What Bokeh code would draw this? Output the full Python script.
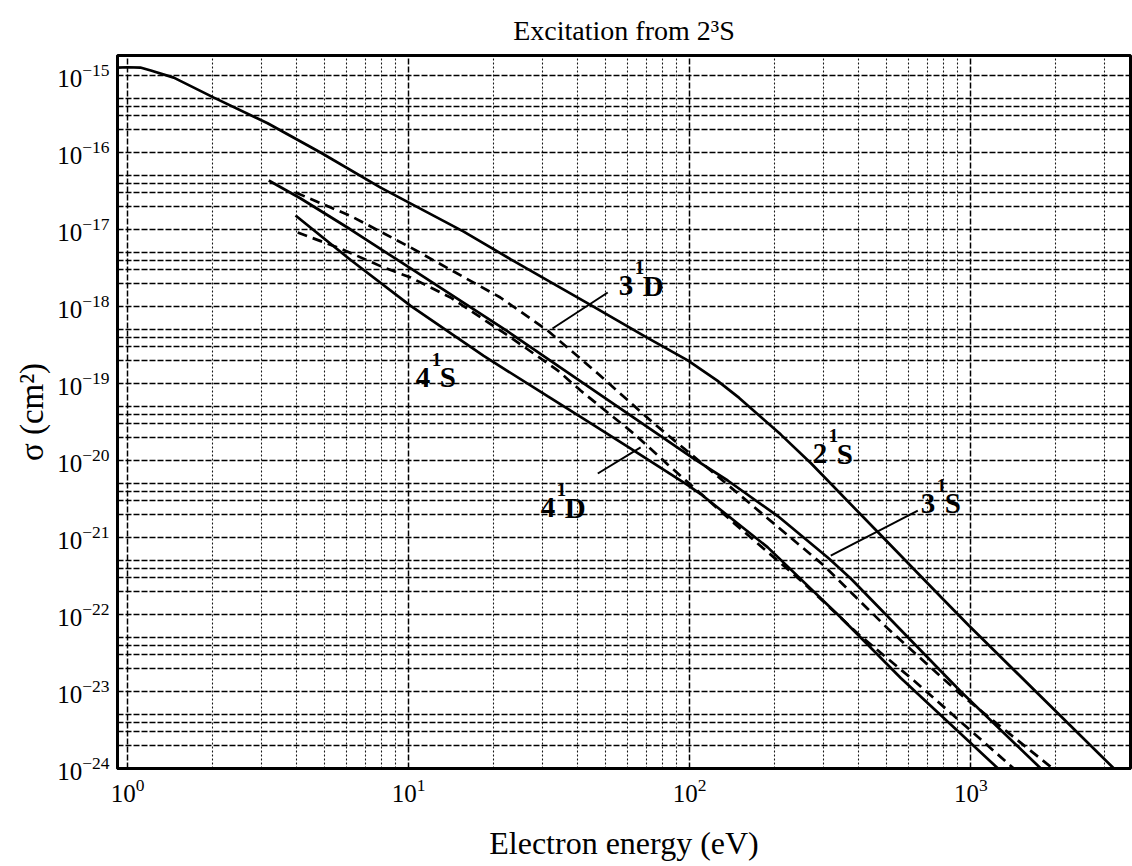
from bokeh.plotting import figure
from bokeh.models import FixedTicker, Range1d, Title
from bokeh.embed import file_html
from bokeh.resources import INLINE
from bokeh.core.properties import value

# Electron energy (eV) and excitation cross section (cm^2) for each final state
e_2s = [0.92, 1.0, 1.11, 1.21, 1.46, 2.02, 3.15, 4.86, 7.95, 15.7, 23.1, 43.4, 70.0, 98.4, 125, 150, 211, 270,
        480, 780, 980, 3230]
s_2s = [1.27e-15, 1.28e-15, 1.27e-15, 1.16e-15, 9.4e-16, 5.2e-16, 2.4e-16, 1.0e-16, 3.5e-17, 9.4e-18, 4.1e-18,
        1.1e-18, 4.0e-19, 2.0e-19, 1.1e-19, 6.5e-20, 2.17e-20, 9.2e-21, 1.06e-21, 1.71e-22, 7.3e-23, 1.0e-24]

e_3s = [3.18, 4.13, 6.22, 10.17, 23.1, 33.9, 63.2, 103.3, 136.5, 205.7, 309.8, 374, 921, 1775]
s_3s = [4.33e-17, 2.53e-17, 1.0e-17, 3.12e-18, 4.46e-19, 1.71e-19, 3.61e-20, 1.06e-20, 5.5e-21, 1.9e-21,
        5.5e-22, 2.94e-22, 1.0e-23, 1.0e-24]

e_3d = [3.96, 6.22, 10.17, 21.2, 31.2, 47.1, 74.5, 118.8, 189.5, 299.9, 506.5, 921, 1957]
s_3d = [3.03e-17, 1.5e-17, 5.83e-18, 1.31e-18, 4.88e-19, 1.35e-19, 3.03e-20, 7.4e-21, 1.77e-21, 4.33e-22,
        6.58e-23, 9.14e-24, 1.0e-24]

e_4s = [3.96, 6.22, 10.17, 18.5, 31.2, 40.9, 61.7, 98.4, 109.4, 189.5, 344.7, 563.5, 1250]
s_4s = [1.52e-17, 4.02e-18, 1.02e-18, 2.28e-19, 6.84e-20, 3.68e-20, 1.43e-20, 4.79e-21, 3.67e-21, 7.45e-22,
        9.16e-23, 1.5e-23, 1.0e-24]

e_4d = [4.03, 5.73, 8.15, 10.17, 14.1, 23.1, 33.9, 40.9, 63.2, 83.5, 109.4, 143.4, 248.3, 396, 627, 1422]
s_4d = [9.14e-18, 5.66e-18, 3.21e-18, 2.38e-18, 1.31e-18, 3.96e-19, 1.48e-19, 8.1e-20, 2.24e-20, 8.9e-21,
        3.72e-21, 1.55e-21, 2.77e-22, 5.66e-23, 1.39e-23, 1.0e-24]

# Curve labels (principal quantum number, multiplicity, orbital letter) and leader lines
label_n = ["3", "4", "4", "2", "3"]
label_mult = ["1", "1", "1", "1", "1"]
label_l = ["D", "S", "D", "S", "S"]
label_e = [55.9, 10.6, 29.5, 274, 664]
label_s = [1.87e-18, 1.2e-19, 2.45e-21, 1.23e-20, 2.77e-21]

leader_e0 = [51.1, 648, 47.1]
leader_s0 = [1.52e-18, 2.24e-21, 6.78e-21]
leader_e1 = [32.5, 317.5, 66.9]
leader_s1 = [5.18e-19, 5.83e-22, 1.48e-20]

# Tick positions
x_decades = [1, 10, 100, 1000]
y_decades = [10.0 ** k for k in range(-24, -14)]
x_minor = [m * d for d in x_decades for m in range(2, 10)]
y_minor = [m * d for d in y_decades for m in (2, 3, 4, 5)]

SERIF = "Liberation Serif"

title = Title(text="Excitation from 2\u00b3S", align="center", text_font=SERIF, text_font_style="normal",
              text_font_size="28px", text_color="black", standoff=20)

p = figure(width=1132, height=866, x_axis_type="log", y_axis_type="log",
           x_range=Range1d(0.921, 3700), y_range=Range1d(1e-24, 1.82e-15),
           output_backend="svg", toolbar_location=None, title=title,
           min_border_left=117, min_border_right=2, min_border_top=55, min_border_bottom=98,
           background_fill_color="white", border_fill_color="white")

p.xaxis.ticker = FixedTicker(ticks=x_decades, minor_ticks=x_minor)
p.yaxis.ticker = FixedTicker(ticks=y_decades, minor_ticks=y_minor)

for ax in (p.xaxis, p.yaxis):
    ax.axis_line_width = 3
    ax.axis_line_color = "black"
    ax.major_tick_out = 0
    ax.major_tick_in = 0
    ax.minor_tick_out = 0
    ax.minor_tick_in = 0
    ax.major_label_text_font = SERIF
    ax.major_label_text_font_size = "25px"
    ax.major_label_text_color = "black"
    ax.axis_label_text_font = SERIF
    ax.axis_label_text_font_style = "normal"
    ax.axis_label_text_color = "black"

p.xaxis.axis_label = "Electron energy (eV)"
p.xaxis.axis_label_text_font_size = "32px"
p.xaxis.major_label_standoff = 10
p.xaxis.axis_label_standoff = 20

p.yaxis.axis_label = "\u03c3 (cm\u00b2)"
p.yaxis.axis_label_text_font_size = "33px"
p.yaxis.major_label_standoff = 8
p.yaxis.axis_label_standoff = 4

p.outline_line_color = "black"
p.outline_line_width = 3
p.outline_line_alpha = 1

# Dense dashed grid
p.xgrid.grid_line_color = "black"
p.xgrid.grid_line_width = 1.5
p.xgrid.grid_line_dash = "6 2"
p.xgrid.minor_grid_line_color = "black"
p.xgrid.minor_grid_line_width = 1.1
p.xgrid.minor_grid_line_dash = "2 2"
p.xgrid.minor_grid_line_alpha = 0.9

p.ygrid.grid_line_color = "black"
p.ygrid.grid_line_width = 1.6
p.ygrid.grid_line_dash = "6 2"
p.ygrid.minor_grid_line_color = "black"
p.ygrid.minor_grid_line_width = 1.3
p.ygrid.minor_grid_line_dash = "6 2"
p.ygrid.minor_grid_line_alpha = 1.0

# Cross-section curves
solid = dict(line_color="black", line_width=2.7)
dashed = dict(line_color="black", line_width=2.7, line_dash="10 6")
p.line(e_2s, s_2s, **solid)
p.line(e_3s, s_3s, **solid)
p.line(e_4s, s_4s, **solid)
p.line(e_3d, s_3d, **dashed)
p.line(e_4d, s_4d, **dashed)

p.segment(x0=leader_e0, y0=leader_s0, x1=leader_e1, y1=leader_s1, line_color="black", line_width=2)

label_style = dict(text_font=value(SERIF), text_font_style="bold", text_color="black",
                   text_align="left", text_baseline="alphabetic")
p.text(x=label_e, y=label_s, text=label_n, text_font_size="29px", **label_style)
p.text(x=label_e, y=label_s, text=label_mult, text_font_size="19px", x_offset=16, y_offset=-18, **label_style)
p.text(x=label_e, y=label_s, text=label_l, text_font_size="29px", x_offset=24, **label_style)

open("out.html", "w").write(file_html(p, INLINE))
